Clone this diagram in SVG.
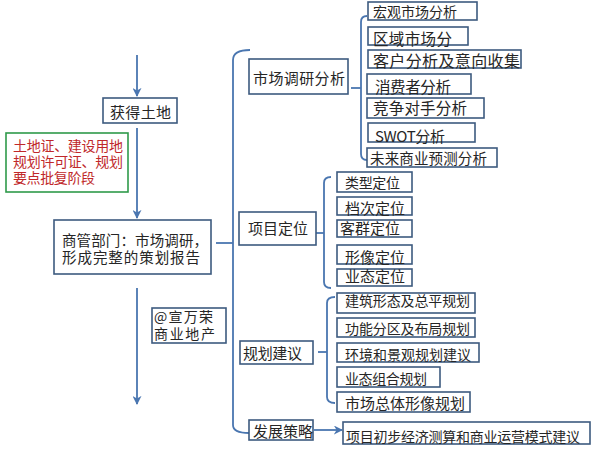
<svg xmlns="http://www.w3.org/2000/svg" width="600" height="452" viewBox="0 0 600 452">
<defs>
<style>
.bx{fill:#fff;stroke:#3d5a7f;stroke-width:1.6}
.gb{fill:#fff;stroke:#2f9a4a;stroke-width:1.6}
.t{font-family:"Noto Sans CJK SC","Noto Sans",sans-serif;fill:#262626;font-size:15px}
.r{fill:#c0282a;font-size:14px}
.ln{fill:none;stroke:#4a76b0;stroke-width:1.8}
</style>
<marker id="ah" viewBox="0 0 10 10" refX="9" refY="5" markerWidth="5" markerHeight="5" orient="auto" markerUnits="strokeWidth">
<path d="M0,0 L10,5 L0,10 L3,5 Z" fill="#4a76b0"/>
</marker>
</defs>
<rect width="600" height="452" fill="#fff"/>
<g id="connectors">
<path class="ln" d="M137,55 L137,96" marker-end="url(#ah)"/>
<path class="ln" d="M137,128 L137,218" marker-end="url(#ah)"/>
<path class="ln" d="M137,288 L137,404" marker-end="url(#ah)"/>
<path class="ln" d="M314,430 L342,430" marker-end="url(#ah)"/>
<path class="ln" d="M250,50 Q233,50 233,60 L233,425 Q233,433 249,433"/>
<path class="ln" d="M216,243 L233,243"/>
<path class="ln" d="M367,16 Q361,16 361,22 L361,154 Q361,160 367,160"/>
<path class="ln" d="M351,88 L361,88"/>
<path class="ln" d="M331,177 Q324,177 324,183 L324,282 Q324,288 331,288"/>
<path class="ln" d="M316,233 L324,233"/>
<path class="ln" d="M335,297 Q327,297 327,303 L327,397 Q327,403 335,403"/>
<path class="ln" d="M318,352 L327,352"/>
</g>
<g id="n-land"><rect class="bx" x="103" y="98" width="74" height="25"/><text class="t" x="110" y="118" textLength="61">获得土地</text></g>
<g id="n-stage"><rect class="gb" x="6" y="133" width="122" height="59"/>
<text class="t r" x="13" y="151" textLength="110">土地证、建设用地</text>
<text class="t r" x="13" y="167" textLength="110">规划许可证、规划</text>
<text class="t r" x="13" y="183" textLength="82">要点批复阶段</text></g>
<g id="n-dept"><rect class="bx" x="54" y="220" width="157" height="54"/>
<text class="t" x="62" y="246" textLength="146" style="font-size:14.5px">商管部门：市场调研，</text>
<text class="t" x="62" y="263" textLength="138" style="font-size:14.5px">形成完整的策划报告</text></g>
<g id="n-mark"><rect class="bx" x="152" y="308" width="74" height="35"/>
<text class="t" x="154" y="322" textLength="59" style="font-size:14px">@宣万荣</text>
<text class="t" x="154" y="339" textLength="61" style="font-size:14px">商业地产</text></g>
<g id="n-market"><rect class="bx" x="249" y="59" width="99" height="35"/><text class="t" x="253" y="84" textLength="92">市场调研分析</text></g>
<g id="n-m1"><rect class="bx" x="368" y="2" width="109" height="18"/><text class="t" x="373" y="17" textLength="84" style="font-size:14px">宏观市场分析</text></g>
<g id="n-m2"><rect class="bx" x="368" y="27" width="100" height="18"/><text class="t" x="373" y="45" textLength="79" style="font-size:15.5px">区域市场分</text></g>
<g id="n-m3"><rect class="bx" x="368" y="50" width="153" height="18"/><text class="t" x="373" y="67" textLength="147" style="font-size:16px">客户分析及意向收集</text></g>
<g id="n-m4"><rect class="bx" x="367" y="74" width="104" height="20"/><text class="t" x="375" y="93" textLength="76" style="font-size:15.5px">消费者分析</text></g>
<g id="n-m5"><rect class="bx" x="367" y="98" width="117" height="20"/><text class="t" x="373" y="114" textLength="94" style="font-size:15.5px">竞争对手分析</text></g>
<g id="n-m6"><rect class="bx" x="368" y="123" width="107" height="19"/><text class="t" x="375" y="142" textLength="70">SWOT分析</text></g>
<g id="n-m7"><rect class="bx" x="367" y="148" width="130" height="19"/><text class="t" x="370" y="164" textLength="117" style="font-size:14.5px">未来商业预测分析</text></g>
<g id="n-pos"><rect class="bx" x="239" y="212" width="77" height="33"/><text class="t" x="248" y="234" textLength="60">项目定位</text></g>
<g id="n-p1"><rect class="bx" x="337" y="172" width="75" height="20"/><text class="t" x="345" y="188" textLength="55" style="font-size:14px">类型定位</text></g>
<g id="n-p2"><rect class="bx" x="337" y="197" width="75" height="18"/><text class="t" x="345" y="214" textLength="60">档次定位</text></g>
<g id="n-p3"><rect class="bx" x="337" y="220" width="75" height="17"/><text class="t" x="340" y="234" textLength="60">客群定位</text></g>
<g id="n-p4"><rect class="bx" x="337" y="245" width="75" height="19"/><text class="t" x="345" y="263" textLength="60">形像定位</text></g>
<g id="n-p5"><rect class="bx" x="337" y="269" width="75" height="17"/><text class="t" x="345" y="282" textLength="60">业态定位</text></g>
<g id="n-plan"><rect class="bx" x="240" y="341" width="73" height="23"/><text class="t" x="243" y="359" textLength="59">规划建议</text></g>
<g id="n-g1"><rect class="bx" x="337" y="293" width="138" height="20"/><text class="t" x="345" y="306" textLength="125" style="font-size:14px">建筑形态及总平规划</text></g>
<g id="n-g2"><rect class="bx" x="337" y="318" width="138" height="19"/><text class="t" x="345" y="334" textLength="125" style="font-size:14px">功能分区及布局规划</text></g>
<g id="n-g3"><rect class="bx" x="337" y="343" width="142" height="19"/><text class="t" x="345" y="360" textLength="126" style="font-size:14px">环境和景观规划建议</text></g>
<g id="n-g4"><rect class="bx" x="337" y="367" width="103" height="20"/><text class="t" x="345" y="384" textLength="82" style="font-size:14px">业态组合规划</text></g>
<g id="n-g5"><rect class="bx" x="337" y="392" width="133" height="20"/><text class="t" x="345" y="409" textLength="120">市场总体形像规划</text></g>
<g id="n-dev"><rect class="bx" x="249" y="420" width="64" height="20"/><text class="t" x="253" y="437" textLength="60">发展策略</text></g>
<g id="n-dev1"><rect class="bx" x="343" y="422" width="247" height="22"/><text class="t" x="346" y="442" textLength="234" style="font-size:14px">项目初步经济测算和商业运营模式建议</text></g>
</svg>
